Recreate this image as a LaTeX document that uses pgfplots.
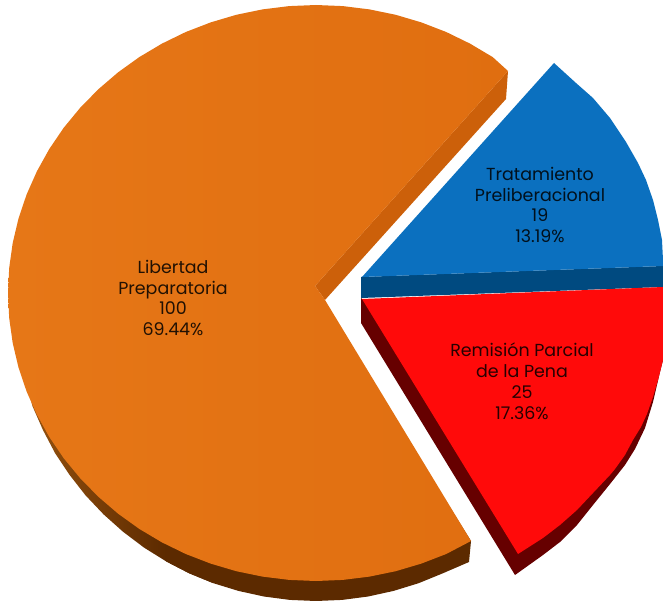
\documentclass[border=0pt]{standalone}
\usepackage{pgfplots}
\usepackage{fontspec}
\setmainfont{Poppins}
\pgfplotsset{compat=1.18}
\definecolor{orangeleft}{HTML}{E67717}
\definecolor{orangeright}{HTML}{E06E10}
\definecolor{orangecut}{HTML}{CC600A}
\definecolor{orangeside}{HTML}{5C2A00}
\definecolor{orangelight}{HTML}{9A5510}
\definecolor{bluetop}{HTML}{0B70BF}
\definecolor{blueside}{HTML}{004A80}
\definecolor{redtop}{HTML}{FF0A0A}
\definecolor{redside}{HTML}{660000}
\tikzset{lbl/.style={font=\fontsize{17.5}{21}\selectfont, align=center, text=black, text opacity=0.85}}
\begin{document}
\begin{tikzpicture}
\useasboundingbox (0,0) rectangle (663bp,601bp);
\begin{axis}[
    at={(0,0)},
    anchor=south west,
    hide axis,
    scale only axis,
    width=663bp,
    height=601bp,
    xmin=0, xmax=663,
    ymin=0, ymax=601,
    y dir=reverse,
    clip=true,
]
% orange slice: rim, left part fades out (runs on under the dark part so no seam shows)
\addplot[draw=none, left color=orangelight, right color=orangeside, middle color=orangeside] coordinates {
    (16,305) (19.5,356.4) (32.5,406.2) (43,430.1) (55,453) (69.5,474.8) (85.5,495.3)
    (103.5,514.3) (123,531.7) (143.9,547.5) (166,561.3) (189.2,573.3) (213.4,583.2) (316,293)
};
\addplot[fill=orangeside, draw=none] coordinates {
    (166,561.3) (189.2,573.3) (213.4,583.2) (238.4,590.9) (263.9,596.5) (289.8,599.9) (316,601)
    (342.2,599.9) (368.1,596.5) (393.6,590.9) (418.6,583.2) (442.8,573.3) (469,562) (471,541) (316,293)
};
% orange slice: cut face
\addplot[fill=orangecut, draw=none] coordinates {
    (315,286) (508,71) (506,99) (325,300)
};
% orange slice: top
\addplot[draw=none, left color=orangeleft, right color=orangeright] coordinates {
    (508,71) (492.7,57.1) (470,43.6) (446.2,32) (421.3,22.4) (395.7,14.8) (369.5,9.4) (342.8,6.1)
    (316,5) (289.2,6.1) (262.5,9.4) (236.3,14.8) (210.7,22.4) (185.8,32) (162,43.6) (139.3,57.1)
    (118,72.4) (98.2,89.4) (80.1,107.9) (63.7,127.8) (49.3,149) (36.9,171.3) (26.6,194.5) (18.5,218.5)
    (12.7,243) (9.2,267.9) (8,293) (9.2,318.1) (12.7,343) (18.5,367.5) (26.6,391.5) (36.9,414.7)
    (49.3,437) (63.7,458.2) (80.1,478.1) (98.2,496.6) (118,513.6) (139.3,528.9) (162,542.4) (185.8,554)
    (210.7,563.6) (236.3,571.2) (262.5,576.6) (289.2,579.9) (316,581) (342.8,579.9) (369.5,576.6)
    (395.7,571.2) (421.3,563.6) (446.2,554) (471,541) (325,300) (315,286)
};
% blue slice
\addplot[fill=blueside, draw=none] coordinates {
    (361,277) (361,298) (663,287) (663,266)
};
\addplot[fill=bluetop, draw=none] coordinates {
    (362,277) (554,63) (576,83) (593,98) (610,118) (626,142) (638,163) (646,180) (653,200)
    (658,220) (662,240) (663,260) (663,266)
};
% red slice
\addplot[fill=redside, draw=none] coordinates {
    (361,298) (361,323) (515,575) (543,555) (560,542) (577,525) (593,505) (610,484) (625,465)
    (635,449) (645,428) (653,402) (660,372) (663,360) (362,299)
};
\addplot[fill=redtop, draw=none] coordinates {
    (362,299) (663,287) (663,360) (658,380) (653,397) (647,414) (641,427) (633,440) (625,455)
    (615,469) (610,475) (593,493) (577,510) (560,525) (543,538) (518,554)
};
\node[lbl] at (axis cs:173,298) {Libertad\\Preparatoria\\100\\69.44\%};
\node[lbl] at (axis cs:540,205) {Tratamiento\\Preliberacional\\19\\13.19\%};
\node[lbl] at (axis cs:522,381) {Remisión Parcial\\de la Pena\\25\\17.36\%};
\end{axis}
\end{tikzpicture}
\end{document}
